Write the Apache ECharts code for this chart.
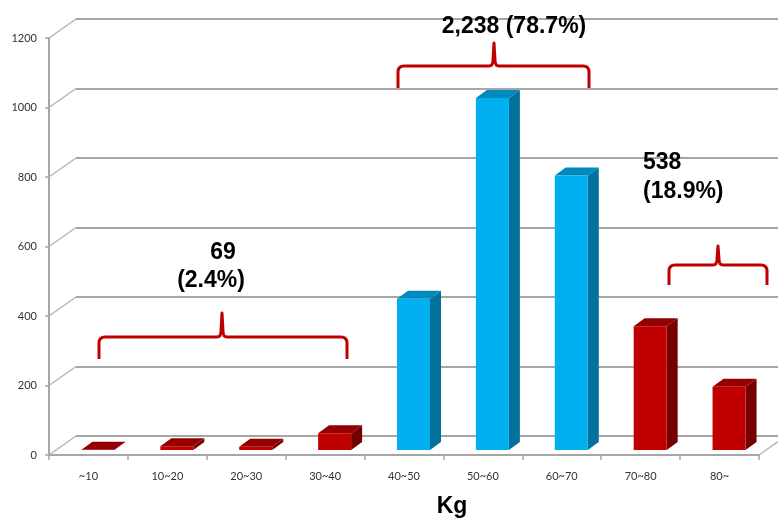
<!DOCTYPE html>
<html>
<head>
<meta charset="utf-8">
<title>Kg</title>
<script src="https://cdn.jsdelivr.net/npm/echarts@6/dist/echarts.min.js"></script>
<style>
  html, body { margin: 0; padding: 0; background: #fff; }
  #chart { width: 778px; height: 520px; }
</style>
</head>
<body>
<div id="chart"></div>
<script>
// 체중 구간별 인원
var categories = ['~10', '10~20', '20~30', '30~40', '40~50', '50~60', '60~70', '70~80', '80~']
var counts = [1, 11, 9, 48, 435, 1013, 790, 356, 182]
var groupOf = [0, 0, 0, 0, 1, 1, 1, 2, 2]
var yTicks = [0, 200, 400, 600, 800, 1000, 1200]
var groupLines = [['69', '(2.4%)'], ['2,238 (78.7%)'], ['538', '(18.9%)']]

var palette = [
  { front: '#c00000', side: '#760000', top: '#940000' },
  { front: '#00b0f0', side: '#00729c', top: '#0089bd' },
  { front: '#c00000', side: '#760000', top: '#940000' }
]
var DEPTH = [27, -19] // 뒷벽까지 밀림
var GRAY = '#a6a6a6'

// 중괄호 위치 (x0, x1, 꼭지 x, 가로선 y, 끝 y, 꼭지 y)
var braceBox = [
  [99, 347, 222, 337, 359, 313],
  [398, 589, 494, 66, 88, 43],
  [669, 767, 718, 265, 285, 246]
]

var chart = echarts.init(document.getElementById('chart'))

function bracket (b) {
  var x0 = b[0], x1 = b[1], xp = b[2], yH = b[3], yEnd = b[4], yPeak = b[5]
  var r = 6
  return 'M' + x0 + ' ' + yEnd +
    ' L' + x0 + ' ' + (yH + r) +
    ' Q' + x0 + ' ' + yH + ' ' + (x0 + r) + ' ' + yH +
    ' L' + (xp - 5) + ' ' + yH +
    ' Q' + (xp - 1) + ' ' + yH + ' ' + (xp - 1) + ' ' + (yH - 6) +
    ' L' + xp + ' ' + yPeak +
    ' L' + (xp + 1) + ' ' + (yH - 6) +
    ' Q' + (xp + 1) + ' ' + yH + ' ' + (xp + 5) + ' ' + yH +
    ' L' + (x1 - r) + ' ' + yH +
    ' Q' + x1 + ' ' + yH + ' ' + x1 + ' ' + (yH + r) +
    ' L' + x1 + ' ' + yEnd
}

function label (text, x, y, align) {
  return {
    type: 'text',
    z: 100,
    x: x,
    y: y,
    style: {
      text: text,
      font: 'bold 23px "Liberation Sans", Arial, sans-serif',
      fill: '#000',
      align: align || 'center',
      verticalAlign: 'middle'
    }
  }
}

var barData = categories.map(function (c, i) {
  return [i, counts[i], groupOf[i]]
})

chart.setOption({
  animation: false,
  textStyle: { fontFamily: 'Lato, sans-serif' },
  grid: [
    { left: 49, right: 19, top: 38, bottom: 65 },
    { left: 49 + DEPTH[0], right: 0, top: 38 + DEPTH[1], bottom: 65 - DEPTH[1] }
  ],
  xAxis: [
    {
      type: 'category',
      gridIndex: 0,
      data: categories,
      axisLine: { lineStyle: { color: GRAY, width: 2 } },
      axisTick: { show: true, length: 5, lineStyle: { color: GRAY, width: 1.5 } },
      axisLabel: { color: '#333', fontSize: 11, margin: 16 }
    },
    {
      type: 'category',
      gridIndex: 1,
      data: categories,
      show: false
    }
  ],
  yAxis: [
    {
      type: 'value',
      gridIndex: 0,
      min: 0,
      max: 1200,
      interval: 200,
      axisLine: { show: true, lineStyle: { color: GRAY, width: 2 } },
      axisTick: { show: true, length: 4, lineStyle: { color: GRAY, width: 1.5 } },
      axisLabel: {
        color: '#333',
        fontSize: 11,
        margin: 12,
        formatter: function (v) { return String(v) }
      },
      splitLine: { show: false }
    },
    {
      // 뒷벽 눈금선
      type: 'value',
      gridIndex: 1,
      min: 0,
      max: 1200,
      interval: 200,
      axisLine: { show: false },
      axisTick: { show: false },
      axisLabel: { show: false },
      splitLine: { show: true, lineStyle: { color: GRAY, width: 2 } }
    }
  ],
  series: [
    {
      // 앞쪽 축에서 뒷벽으로 이어지는 사선
      type: 'custom',
      xAxisIndex: 0,
      yAxisIndex: 0,
      silent: true,
      clip: false,
      data: yTicks.map(function (v) { return [0, v] }),
      renderItem: function (params, api) {
        var p = api.coord([0, api.value(1)])
        var bw = api.size([1, 0])[0]
        var x = p[0] - bw / 2
        var children = [{
          type: 'line',
          shape: { x1: x, y1: p[1], x2: x + DEPTH[0], y2: p[1] + DEPTH[1] },
          style: { stroke: '#b4b4b4', lineWidth: 1.5 }
        }]
        if (params.dataIndex === 0) {
          var q = api.coord([categories.length - 1, 0])
          var xr = q[0] + bw / 2
          children.push({
            type: 'line',
            shape: { x1: xr, y1: q[1], x2: xr + DEPTH[0], y2: q[1] + DEPTH[1] },
            style: { stroke: '#b4b4b4', lineWidth: 1.5 }
          })
        }
        return { type: 'group', children: children }
      }
    },
    {
      // 3D 느낌 막대
      type: 'custom',
      xAxisIndex: 0,
      yAxisIndex: 0,
      clip: false,
      data: barData,
      renderItem: function (params, api) {
        var i = api.value(0)
        var base = api.coord([i, 0])
        var top = api.coord([i, api.value(1)])
        var col = palette[api.value(2)]
        var x0 = base[0] - 7
        var x1 = x0 + 33
        var yb = base[1] - 5
        var yt = top[1] - 5
        var dx = 11
        var dy = -8
        return {
          type: 'group',
          children: [
            {
              type: 'polygon',
              shape: { points: [[x1, yt], [x1 + dx, yt + dy], [x1 + dx, yb + dy], [x1, yb]] },
              style: { fill: col.side }
            },
            {
              type: 'polygon',
              shape: { points: [[x0, yt], [x0 + dx, yt + dy], [x1 + dx, yt + dy], [x1, yt]] },
              style: { fill: col.top }
            },
            {
              type: 'rect',
              shape: { x: x0, y: yt, width: x1 - x0, height: Math.max(yb - yt, 0) },
              style: { fill: col.front }
            }
          ]
        }
      }
    },
    {
      // 묶음 중괄호
      type: 'custom',
      xAxisIndex: 0,
      yAxisIndex: 0,
      silent: true,
      clip: false,
      z: 10,
      data: [[0, 0], [1, 0], [2, 0]],
      renderItem: function (params, api) {
        return {
          type: 'path',
          shape: { pathData: bracket(braceBox[params.dataIndex]) },
          style: { fill: null, stroke: '#c00000', lineWidth: 3, lineJoin: 'round' }
        }
      }
    }
  ],
  graphic: [
    label(groupLines[0][0], 223, 253),
    label(groupLines[0][1], 211, 281),
    label(groupLines[1][0], 514, 27),
    label(groupLines[2][0], 643, 163, 'left'),
    label(groupLines[2][1], 643, 192, 'left'),
    label('Kg', 452, 507)
  ]
})
</script>
</body>
</html>
